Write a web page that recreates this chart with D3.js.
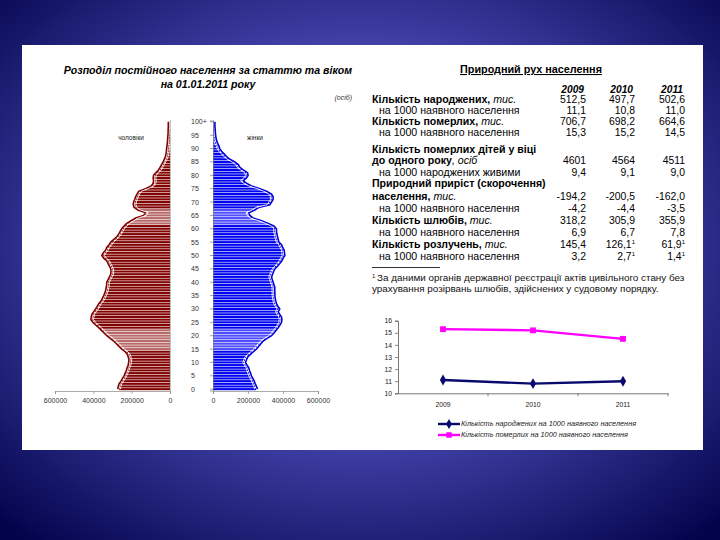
<!DOCTYPE html>
<html lang="uk">
<head>
<meta charset="utf-8">
<title>Природний рух населення</title>
<script src="https://d3js.org/d3.v7.min.js"></script>
<style>
  body{margin:0;padding:0;overflow:hidden;}
  svg{display:block;font-family:"Liberation Sans",Arial,sans-serif;}
</style>
</head>
<body>
<div id="chart"></div>
<script>
// ---- pyramid data: population by single year of age 0..100+ (thousands), 01.01.2011
var ages = d3.range(0, 101)
var male = [265,262,258,248,240,232,226,220,216,210,208,206,210,214,226,244,258,272,286,304,
            322,336,350,364,380,395,405,403,400,390,380,372,364,352,345,338,332,328,325,323,
            322,315,308,301,300,301,308,315,322,338,348,340,328,322,310,301,285,270,260,252,
            244,232,218,195,171,130,119,160,180,184,182,176,171,164,156,120,90,80,78,80,
            78,65,52,44,36,28,22,16,13,11,10,8,6,5,4,3,2,2,1,1,1]
var female = [246,240,233,227,219,211,206,200,196,186,177,183,189,205,222,240,252,265,278,300,
              326,340,352,364,374,383,385,383,372,364,373,362,354,350,347,345,345,344,345,340,
              335,330,326,332,338,345,360,373,385,392,402,400,398,390,383,368,364,360,357,354,
              354,341,307,269,221,202,196,230,253,316,326,335,335,326,297,259,211,183,164,183,
              192,189,164,145,136,116,88,69,55,40,30,25,17,12,9,6,5,4,3,2,3]
var pyrTicks = [0, 200000, 400000, 600000]
var ageTicks = [0,5,10,15,20,25,30,35,40,45,50,55,60,65,70,75,80,85,90,95,100]

// ---- table data
var years = ["2009", "2010", "2011"]
var births = [512.5, 497.7, 502.6]
var birthsPer1000 = [11.1, 10.8, 11.0]
var deaths = [706.7, 698.2, 664.6]
var deathsPer1000 = [15.3, 15.2, 14.5]
var infantDeaths = [4601, 4564, 4511]
var infantPer1000 = [9.4, 9.1, 9.0]
var natGrowth = [-194.2, -200.5, -162.0]
var natGrowthPer1000 = [-4.2, -4.4, -3.5]
var marriages = [318.2, 305.9, 355.9]
var marriagesPer1000 = [6.9, 6.7, 7.8]
var divorces = [145.4, 126.1, 61.9]
var divorcesPer1000 = [3.2, 2.7, 1.4]
var divorceNote = [false, true, true]
var lineTicks = [10, 11, 12, 13, 14, 15, 16]

var W = 720, H = 540
var svg = d3.select("#chart").append("svg").attr("width", W).attr("height", H)

// slide background
var defs = svg.append("defs")
var grad = defs.append("radialGradient").attr("id", "bg").attr("cx", "50%").attr("cy", "45%").attr("r", "72%")
grad.append("stop").attr("offset", "0%").attr("stop-color", "#6e6ed6")
grad.append("stop").attr("offset", "45%").attr("stop-color", "#4848b2")
grad.append("stop").attr("offset", "100%").attr("stop-color", "#03034c")
svg.append("rect").attr("width", W).attr("height", H).attr("fill", "url(#bg)")
svg.append("rect").attr("x", 22).attr("y", 45).attr("width", 681).attr("height", 405).attr("fill", "#fff")

// ================= pyramid =================
var pyr = svg.append("g")
pyr.append("text").attr("x", 208).attr("y", 74).attr("text-anchor", "middle")
   .style("font-size", "10.6px").style("font-weight", "bold").style("font-style", "italic")
   .text("Розподіл постійного населення за статтю та віком")
pyr.append("text").attr("x", 208).attr("y", 88).attr("text-anchor", "middle")
   .style("font-size", "10.6px").style("font-weight", "bold").style("font-style", "italic")
   .text("на 01.01.2011 року")
pyr.append("text").attr("x", 352).attr("y", 100).attr("text-anchor", "end")
   .style("font-size", "7px").style("font-style", "italic").attr("fill", "#333").text("(осіб)")

var yAge = d3.scaleBand().domain(ages).range([390.5, 120.5]).paddingInner(0)
var bw = yAge.bandwidth()
var xM = d3.scaleLinear().domain([0, 600000]).range([170, 55])
var xF = d3.scaleLinear().domain([0, 600000]).range([213, 318])

function isLight(a) { return (a >= 15 && a <= 22) || (a >= 62 && a <= 67) }

pyr.selectAll(".mbar").data(ages).enter().append("rect").attr("class", "mbar")
   .attr("x", function(a) { return xM(male[a] * 1000) })
   .attr("y", function(a) { return yAge(a) + 0.3 })
   .attr("width", function(a) { return 170 - xM(male[a] * 1000) })
   .attr("height", bw - 0.6)
   .attr("fill", function(a) { return isLight(a) ? "#b86a6a" : "#800000" })

pyr.selectAll(".fbar").data(ages).enter().append("rect").attr("class", "fbar")
   .attr("x", 213)
   .attr("y", function(a) { return yAge(a) + 0.3 })
   .attr("width", function(a) { return xF(female[a] * 1000) - 213 })
   .attr("height", bw - 0.6)
   .attr("fill", function(a) { return isLight(a) ? "#4d4dff" : "#0000f0" })

// outlines along the bar ends
var mLine = d3.line().x(function(a) { return xM(male[a] * 1000) }).y(function(a) { return yAge(a) + bw / 2 })
var fLine = d3.line().x(function(a) { return xF(female[a] * 1000) }).y(function(a) { return yAge(a) + bw / 2 })
pyr.append("path").attr("d", mLine(ages)).attr("fill", "none").attr("stroke", "#800000")
   .attr("stroke-width", 1.6).attr("transform", "translate(-1.5,0)")
pyr.append("path").attr("d", mLine(ages)).attr("fill", "none").attr("stroke", "#fff")
   .attr("stroke-width", 0.9).attr("transform", "translate(1.2,0)")
pyr.append("path").attr("d", fLine(ages)).attr("fill", "none").attr("stroke", "#0000d8")
   .attr("stroke-width", 1.6).attr("transform", "translate(1.5,0)")
pyr.append("path").attr("d", fLine(ages)).attr("fill", "none").attr("stroke", "#fff")
   .attr("stroke-width", 0.9).attr("transform", "translate(-1.2,0)")

// vertical axis lines
pyr.append("line").attr("x1", 170.5).attr("x2", 170.5).attr("y1", 120).attr("y2", 391).attr("stroke", "#999").attr("stroke-width", 0.6)
var ageAxis = d3.axisLeft(yAge).tickValues(ageTicks).tickSize(3).tickFormat("")
var ga = pyr.append("g").attr("transform", "translate(213,0)").call(ageAxis)
ga.select(".domain").attr("stroke", "#777").attr("stroke-width", 0.7)
ga.selectAll(".tick line").attr("stroke", "#777").attr("stroke-width", 0.7)
pyr.selectAll(".agelab").data(ageTicks).enter().append("text").attr("class", "agelab")
   .attr("x", 191).attr("y", function(a) { return yAge(a) + bw / 2 + 2.5 })
   .style("font-size", "7px").attr("fill", "#333")
   .text(function(a) { return a === 100 ? "100+" : a })

var axM = d3.axisBottom(xM).tickValues(pyrTicks).tickSize(3).tickFormat(d3.format("d"))
var gm = pyr.append("g").attr("transform", "translate(0,391)").call(axM)
var axF = d3.axisBottom(xF).tickValues(pyrTicks).tickSize(3).tickFormat(d3.format("d"))
var gf = pyr.append("g").attr("transform", "translate(0,391)").call(axF)
;[gm, gf].forEach(function(g) {
  g.select(".domain").attr("stroke", "#888").attr("stroke-width", 0.7)
  g.selectAll(".tick line").attr("stroke", "#888").attr("stroke-width", 0.7)
  g.selectAll(".tick text").style("font-size", "7px").attr("fill", "#333").attr("font-family", null).attr("dy", "0.9em")
})
pyr.append("text").attr("x", 131).attr("y", 139.5).attr("text-anchor", "middle")
   .style("font-size", "6.5px").attr("fill", "#222").text("чоловіки")
pyr.append("text").attr("x", 255).attr("y", 139.5).attr("text-anchor", "middle")
   .style("font-size", "6.5px").attr("fill", "#222").text("жінки")

// ================= table =================
var loc = d3.formatLocale({decimal: ",", thousands: "", grouping: [3], currency: ["", ""], minus: "-"})
var f1 = loc.format(".1f"), f0 = loc.format("d")
var tab = svg.append("g")
tab.append("text").attr("x", 531).attr("y", 73).attr("text-anchor", "middle")
   .style("font-size", "10.8px").style("font-weight", "bold").style("text-decoration", "underline")
   .text("Природний рух населення")

var colX = [586, 635, 685]
tab.selectAll(".yr").data(years).enter().append("text").attr("class", "yr")
   .attr("x", function(d, i) { return colX[i] - 2 }).attr("y", 92.5).attr("text-anchor", "end")
   .style("font-size", "10.2px").style("font-weight", "bold").style("font-style", "italic")
   .text(function(d) { return d })

var rows = [
  {y: 99, bold: "Кількість народжених, ", it: "тис.", vals: births, fmt: f1},
  {y: 110, plain: "на 1000 наявного населення", vals: birthsPer1000, fmt: f1},
  {y: 121, bold: "Кількість померлих, ", it: "тис.", vals: deaths, fmt: f1},
  {y: 132, plain: "на 1000 наявного населення", vals: deathsPer1000, fmt: f1},
  {y: 149, bold: "Кількість померлих дітей у віці"},
  {y: 160, bold: "до одного року", it: ", осіб", vals: infantDeaths, fmt: f0},
  {y: 172, plain: "на 1000 народжених живими", vals: infantPer1000, fmt: f1},
  {y: 183, bold: "Природний приріст (скорочення)"},
  {y: 196, bold: "населення, ", it: "тис.", vals: natGrowth, fmt: f1},
  {y: 208, plain: "на 1000 наявного населення", vals: natGrowthPer1000, fmt: f1},
  {y: 220, bold: "Кількість шлюбів, ", it: "тис.", vals: marriages, fmt: f1},
  {y: 232, plain: "на 1000 наявного населення", vals: marriagesPer1000, fmt: f1},
  {y: 244, bold: "Кількість розлучень, ", it: "тис.", vals: divorces, fmt: f1, note: divorceNote},
  {y: 256, plain: "на 1000 наявного населення", vals: divorcesPer1000, fmt: f1, note: divorceNote}
]
rows.forEach(function(r) {
  var t = tab.append("text").attr("y", r.y + 3.6).style("font-size", "10.6px")
  if (r.plain) {
    t.attr("x", 379).text(r.plain)
  } else {
    t.attr("x", 372)
    t.append("tspan").style("font-weight", "bold").text(r.bold)
    if (r.it) t.append("tspan").style("font-style", "italic").text(r.it)
  }
  if (r.vals) {
    r.vals.forEach(function(v, i) {
      var nt = tab.append("text").attr("x", colX[i]).attr("y", r.y + 3.6)
                  .attr("text-anchor", "end").style("font-size", "10.4px")
      var noted = r.note && r.note[i]
      nt.append("tspan").text(r.fmt(v))
      if (noted) nt.append("tspan").attr("dy", -4).style("font-size", "6px").text("1")
    })
  }
})
tab.append("line").attr("x1", 372).attr("x2", 440).attr("y1", 267.5).attr("y2", 267.5).attr("stroke", "#000").attr("stroke-width", 0.8)
var fn = tab.append("text").attr("x", 372).attr("y", 281).style("font-size", "9.9px").attr("fill", "#111")
fn.append("tspan").attr("dy", -3).style("font-size", "6px").text("1 ")
fn.append("tspan").attr("dy", 3).text("За даними органів державної реєстрації актів цивільного стану без")
tab.append("text").attr("x", 372).attr("y", 292).style("font-size", "9.9px").attr("fill", "#111")
   .text("урахування розірвань шлюбів, здійснених у судовому порядку.")

// ================= line chart =================
var lc = svg.append("g")
var xL = d3.scaleBand().domain(years).range([398, 668])
var yL = d3.scaleLinear().domain([10, 16]).range([393.3, 320.7])
var gy = lc.append("g").attr("transform", "translate(398,0)")
   .call(d3.axisLeft(yL).tickValues(lineTicks).tickSize(3).tickFormat(d3.format("d")))
var gx = lc.append("g").attr("transform", "translate(0,393.3)")
   .call(d3.axisBottom(xL).tickSize(0))
gx.selectAll(".bt").data(xL.domain().slice(1)).enter().append("line").attr("class", "bt")
   .attr("x1", function(d) { return xL(d) }).attr("x2", function(d) { return xL(d) })
   .attr("y1", 0).attr("y2", 3).attr("stroke", "#555").attr("stroke-width", 0.7)
gx.append("line").attr("x1", 668).attr("x2", 668).attr("y1", 0).attr("y2", 3).attr("stroke", "#555").attr("stroke-width", 0.7)
;[gy, gx].forEach(function(g) {
  g.select(".domain").attr("stroke", "#555").attr("stroke-width", 0.8)
  g.selectAll(".tick line").attr("stroke", "#555").attr("stroke-width", 0.7)
  g.selectAll(".tick text").style("font-size", "6.8px").attr("fill", "#222").attr("font-family", null)
})
gx.selectAll(".tick text").attr("dy", "1.6em")

var series = [
  {vals: birthsPer1000, color: "#0a0a6e", sym: d3.symbolDiamond, name: "Кількість народжених на 1000 наявного населення"},
  {vals: deathsPer1000, color: "#ff00ff", sym: d3.symbolSquare, name: "Кількість померлих на 1000 наявного населення"}
]
series.forEach(function(s, k) {
  var ln = d3.line().x(function(d, i) { return xL(years[i]) + xL.bandwidth() / 2 }).y(function(d) { return yL(d) })
  lc.append("path").attr("d", ln(s.vals)).attr("fill", "none").attr("stroke", s.color).attr("stroke-width", 2.4)
  lc.selectAll(".m" + k).data(s.vals).enter().append("path").attr("class", "m" + k)
    .attr("transform", function(d, i) { return "translate(" + (xL(years[i]) + xL.bandwidth() / 2) + "," + yL(d) + ")" })
    .attr("d", d3.symbol().type(s.sym).size(34)).attr("fill", s.color)
  var ly = 424 + k * 11
  lc.append("line").attr("x1", 438).attr("x2", 460).attr("y1", ly).attr("y2", ly).attr("stroke", s.color).attr("stroke-width", 2.4)
  lc.append("path").attr("transform", "translate(449," + ly + ")").attr("d", d3.symbol().type(s.sym).size(30)).attr("fill", s.color)
  lc.append("text").attr("x", 461).attr("y", ly + 2.4).style("font-size", "7.3px").style("font-style", "italic")
    .attr("fill", "#222").text(s.name)
})
</script>
</body>
</html>
